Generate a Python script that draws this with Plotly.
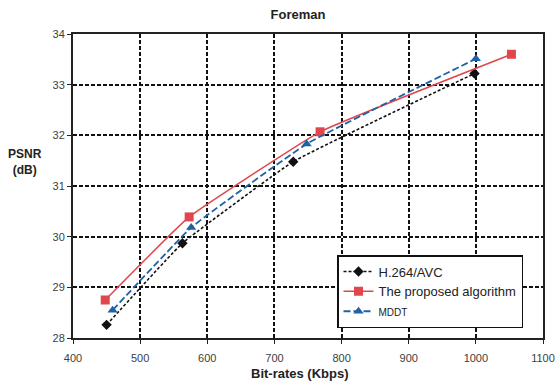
import plotly.graph_objects as go

title = "Foreman"
x_h264 = [450, 563, 728, 998]
y_h264 = [28.26, 29.87, 31.48, 33.22]
x_prop = [448, 573, 768, 1053]
y_prop = [28.75, 30.39, 32.07, 33.60]
x_mddt = [459, 576, 748, 1000]
y_mddt = [28.55, 30.18, 31.83, 33.51]
names = ["H.264/AVC", "The proposed algorithm", "MDDT"]

fig = go.Figure()
fig.add_trace(go.Scatter(x=x_h264, y=y_h264, name=names[0], mode="lines+markers",
                         line=dict(color="#111111", width=1.6, dash="3px,2px", shape="spline", smoothing=0.3),
                         marker=dict(symbol="diamond", size=8, color="#111111")))
fig.add_trace(go.Scatter(x=x_prop, y=y_prop, name=names[1], mode="lines+markers",
                         line=dict(color="#E0474C", width=1.5, shape="spline", smoothing=0.3),
                         marker=dict(symbol="square", size=9, color="#E0474C")))
fig.add_trace(go.Scatter(x=x_mddt, y=y_mddt, name='<span style="font-size:10px">' + names[2] + '</span>',
                         mode="lines+markers",
                         line=dict(color="#1F62A6", width=1.8, dash="7px,3px", shape="spline", smoothing=0.3),
                         marker=dict(symbol="triangle-up", size=9, color="#1F62A6")))

axis_common = dict(showline=True, linecolor="#222222", linewidth=2, mirror=True,
                   showgrid=True, gridcolor="#111111", gridwidth=1.5, griddash="4px,2px",
                   ticks="outside", ticklen=4, tickcolor="#222222",
                   tickfont=dict(size=11, color="#404040", family="Liberation Sans"),
                   zeroline=False, automargin=False)

W, H = 556, 382
L, R, T, B = 73, 13, 34, 44
PW, PH = W - L - R, H - T - B

fig.update_layout(
    width=W, height=H,
    margin=dict(l=L, r=R, t=T, b=B),
    plot_bgcolor="white", paper_bgcolor="white",
    title=dict(text="<b>" + title + "</b>", x=298 / W, xanchor="center", y=1 - 14 / H, yanchor="middle",
               font=dict(size=13, color="#222222", family="Liberation Sans"), automargin=False),
    xaxis=dict(range=[400, 1100], dtick=100, ticklabelstandoff=5, **axis_common),
    yaxis=dict(range=[28, 34], dtick=1, **axis_common),
    legend=dict(x=(337 - 73) / PW, y=(338 - 255) / PH, xanchor="left", yanchor="top",
                bordercolor="#111111", borderwidth=1.5, bgcolor="white",
                font=dict(size=13, color="#222222", family="Liberation Sans"),
                tracegroupgap=0, itemwidth=30),
    showlegend=True,
)
fig.add_annotation(text="<b>PSNR<br>(dB)</b>", xref="paper", yref="paper",
                   x=-48 / PW, y=(338 - 162) / PH, xanchor="center", yanchor="middle",
                   showarrow=False, font=dict(size=12, color="#222222", family="Liberation Sans"))
fig.add_annotation(text="<b>Bit-rates (Kbps)</b>", xref="paper", yref="paper",
                   x=(300 - 73) / PW, y=-(373 - 338) / PH, xanchor="center", yanchor="middle",
                   showarrow=False, font=dict(size=13, color="#222222", family="Liberation Sans"))

fig.write_html("out.html", config={"displayModeBar": False},
               post_script="document.body.style.margin='0';document.body.style.overflow='hidden';")
